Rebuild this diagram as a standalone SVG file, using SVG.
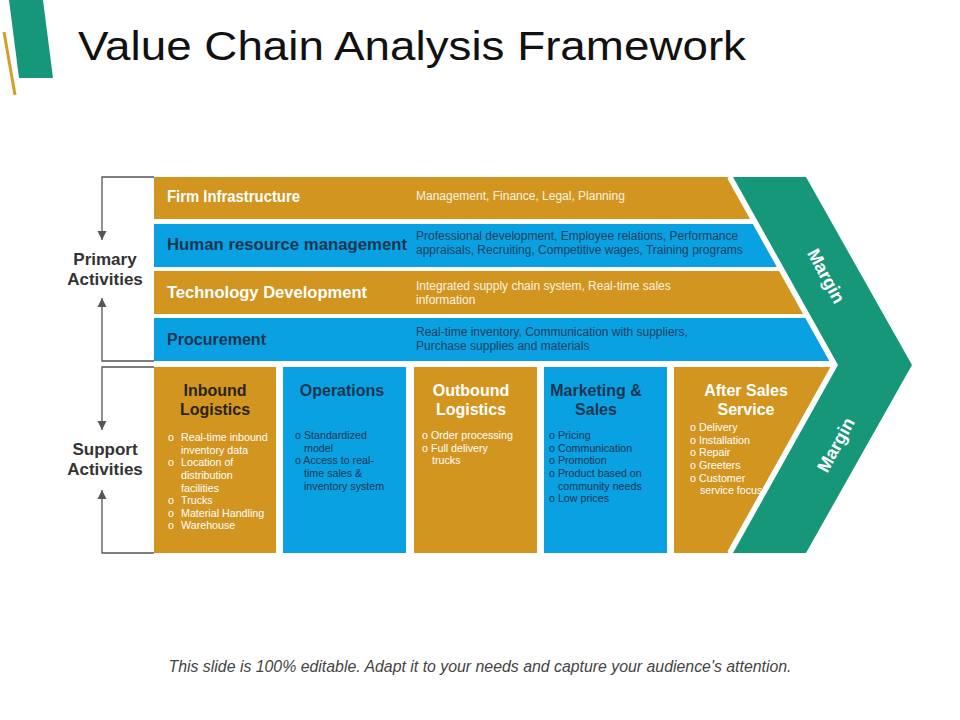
<svg xmlns="http://www.w3.org/2000/svg" width="960" height="720" viewBox="0 0 960 720">
<style>
.gold{fill:#D2951F}
.blue{fill:#09A1E2}
.green{fill:#179779}
.lbl{font-family:"Liberation Sans",Arial,sans-serif;font-weight:bold;font-size:16px}
.desc{font-family:"Liberation Sans",Arial,sans-serif;font-size:12px}
.head{font-family:"Liberation Sans",Arial,sans-serif;font-weight:bold;font-size:16px;text-anchor:middle}
.bul{font-family:"Liberation Sans",Arial,sans-serif;font-size:10.7px}
.side{font-family:"Liberation Sans",Arial,sans-serif;font-weight:bold;font-size:17px;fill:#333;text-anchor:middle}
.w{fill:#FFFFFF}
.d{fill:#1E3550}
.k{fill:#2A2418}
.br{fill:none;stroke:#555;stroke-width:1.3}
</style>
<defs>
<marker id="ah" viewBox="0 0 10 10" refX="10" refY="5" markerWidth="7" markerHeight="7" orient="auto-start-reverse">
<path d="M0,0 L10,5 L0,10 z" fill="#555"/>
</marker>
</defs>
<rect width="960" height="720" fill="#FFFFFF"/>
<g id="decor">
<polygon points="9,0 43,0 53,78 19,78" class="green"/>
<line x1="4" y1="32" x2="15" y2="95" stroke="#D2A02A" stroke-width="3"/>
</g>
<text id="title" x="78" y="60" font-family="'Liberation Sans',Arial,sans-serif" font-size="40" fill="#111" textLength="668" lengthAdjust="spacingAndGlyphs">Value Chain Analysis Framework</text>

<g id="connectors">
<polyline class="br" points="154,177 102,177 102,240" marker-end="url(#ah)"/>
<polyline class="br" points="154,361 102,361 102,298" marker-end="url(#ah)"/>
<polyline class="br" points="154,367 102,367 102,430" marker-end="url(#ah)"/>
<polyline class="br" points="154,553 102,553 102,490" marker-end="url(#ah)"/>
</g>
<g id="primary-label"><text class="side" x="105" y="265">Primary</text><text class="side" x="105" y="285">Activities</text></g>
<g id="support-label"><text class="side" x="105" y="455">Support</text><text class="side" x="105" y="475">Activities</text></g>

<g id="firm-infrastructure">
<polygon class="gold" points="154,177 728,177 751,219 154,219"/>
<text class="lbl w" x="167" y="202" textLength="133" lengthAdjust="spacingAndGlyphs">Firm Infrastructure</text>
<text class="desc" x="416" y="200" fill="#FBF3E2">Management, Finance, Legal, Planning</text>
</g>
<g id="human-resource">
<polygon class="blue" points="154,224 754,224 778,267 154,267"/>
<text class="lbl d" x="167" y="250" textLength="240" lengthAdjust="spacingAndGlyphs">Human resource management</text>
<text class="desc" x="416" y="240" fill="#20405E">Professional development, Employee relations, Performance</text>
<text class="desc" x="416" y="254" fill="#20405E">appraisals, Recruiting, Competitive wages, Training programs</text>
</g>
<g id="technology-development">
<polygon class="gold" points="154,271 780,271 804,314 154,314"/>
<text class="lbl w" x="167" y="298" textLength="200" lengthAdjust="spacingAndGlyphs">Technology Development</text>
<text class="desc" x="416" y="290" fill="#FBF3E2">Integrated supply chain system, Real-time sales</text>
<text class="desc" x="416" y="304" fill="#FBF3E2">information</text>
</g>
<g id="procurement">
<polygon class="blue" points="154,318 806,318 830,361 154,361"/>
<text class="lbl d" x="167" y="345" textLength="99" lengthAdjust="spacingAndGlyphs">Procurement</text>
<text class="desc" x="416" y="336" fill="#20405E">Real-time inventory, Communication with suppliers,</text>
<text class="desc" x="416" y="350" fill="#20405E">Purchase supplies and materials</text>
</g>

<g id="inbound-logistics">
<rect class="gold" x="154" y="367" width="122" height="186"/>
<text class="head k" x="215" y="396">Inbound</text>
<text class="head k" x="215" y="415">Logistics</text>
<g class="bul w">
<text x="168" y="441">o</text><text x="181" y="441">Real-time inbound</text>
<text x="181" y="454">inventory data</text>
<text x="168" y="466">o</text><text x="181" y="466">Location of</text>
<text x="181" y="479">distribution</text>
<text x="181" y="492">facilities</text>
<text x="168" y="504">o</text><text x="181" y="504">Trucks</text>
<text x="168" y="517">o</text><text x="181" y="517">Material Handling</text>
<text x="168" y="529">o</text><text x="181" y="529">Warehouse</text>
</g>
</g>
<g id="operations">
<rect class="blue" x="283" y="367" width="123" height="186"/>
<text class="head d" x="342" y="396">Operations</text>
<g class="bul d">
<text x="295" y="439">o Standardized</text>
<text x="304" y="452">model</text>
<text x="295" y="464">o Access to real-</text>
<text x="304" y="477">time sales &amp;</text>
<text x="304" y="490">inventory system</text>
</g>
</g>
<g id="outbound-logistics">
<rect class="gold" x="414" y="367" width="123" height="186"/>
<text class="head w" x="471" y="396">Outbound</text>
<text class="head w" x="471" y="415">Logistics</text>
<g class="bul w">
<text x="422" y="439">o Order processing</text>
<text x="422" y="452">o Full delivery</text>
<text x="432" y="464">trucks</text>
</g>
</g>
<g id="marketing-sales">
<rect class="blue" x="544" y="367" width="123" height="186"/>
<text class="head d" x="596" y="396">Marketing &amp;</text>
<text class="head d" x="596" y="415">Sales</text>
<g class="bul d">
<text x="549" y="439">o Pricing</text>
<text x="549" y="452">o Communication</text>
<text x="549" y="464">o Promotion</text>
<text x="549" y="477">o Product based on</text>
<text x="558" y="490">community needs</text>
<text x="549" y="502">o Low prices</text>
</g>
</g>
<g id="after-sales-service">
<polygon class="gold" points="674,367 832,367 728,553 674,553"/>
<text class="head w" x="746" y="396">After Sales</text>
<text class="head w" x="746" y="415">Service</text>
<g class="bul w">
<text x="690" y="431">o Delivery</text>
<text x="690" y="444">o Installation</text>
<text x="690" y="456">o Repair</text>
<text x="690" y="469">o Greeters</text>
<text x="690" y="482">o Customer</text>
<text x="700" y="494">service focus</text>
</g>
</g>

<g id="margin">
<polyline points="730,177 835,365 730,553" fill="none" stroke="#FFFFFF" stroke-width="6" stroke-linejoin="miter"/>
<polygon class="green" points="733,177 806,177 912,365 806,553 733,553 838,365"/>
<text x="0" y="0" transform="translate(826,276) rotate(61.5)" font-family="'Liberation Sans',Arial,sans-serif" font-weight="bold" font-size="18" fill="#FFFFFF" text-anchor="middle" dominant-baseline="central">Margin</text>
<text x="0" y="0" transform="translate(836,445) rotate(-61.5)" font-family="'Liberation Sans',Arial,sans-serif" font-weight="bold" font-size="18" fill="#FFFFFF" text-anchor="middle" dominant-baseline="central">Margin</text>
</g>

<text id="footer" x="480" y="672" font-family="'Liberation Sans',Arial,sans-serif" font-style="italic" font-size="16" fill="#444" text-anchor="middle" textLength="623" lengthAdjust="spacingAndGlyphs">This slide is 100% editable. Adapt it to your needs and capture your audience's attention.</text>
</svg>
